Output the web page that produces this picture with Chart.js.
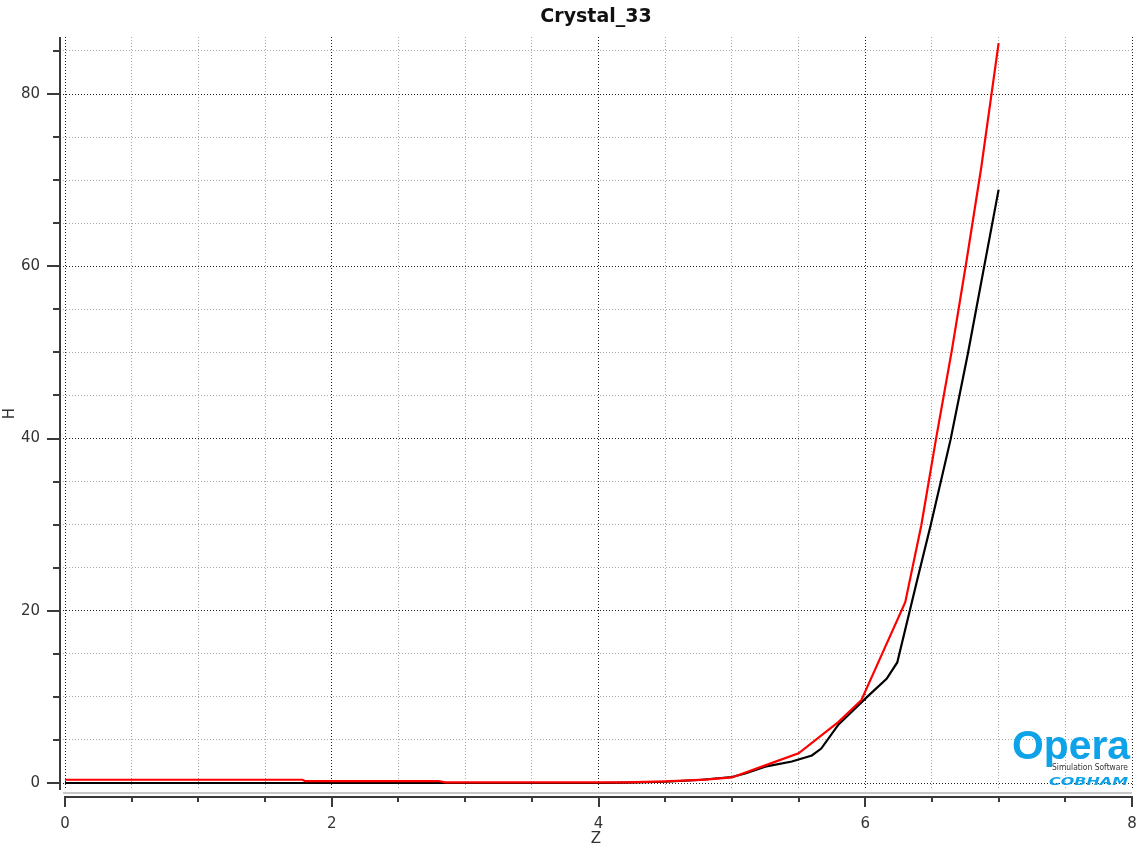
<!DOCTYPE html>
<html><head><meta charset="utf-8">
<script src="https://cdn.jsdelivr.net/npm/chart.js@4.4.0/dist/chart.umd.min.js"></script>
<style>html,body{margin:0;padding:0;background:#fff;overflow:hidden}#wrap{width:1137px;height:851px;position:relative}</style>
</head><body><div id="wrap"><canvas id="c" width="1137" height="851"></canvas></div>
<script>
const chartTitle = 'Crystal_33';
const xAxisTitle = 'Z';
const yAxisTitle = 'H';
const xTickValues = [0,0.5,1,1.5,2,2.5,3,3.5,4,4.5,5,5.5,6,6.5,7,7.5,8];
const xMajorTicks = [0,2,4,6,8];
const yTickValues = [0,5,10,15,20,25,30,35,40,45,50,55,60,65,70,75,80,85];
const yMajorTicks = [0,20,40,60,80];

const blackZ = [0, 1, 2, 3, 4, 4.2, 4.5, 4.75, 5.0, 5.1, 5.25, 5.45, 5.6, 5.67, 5.8, 6.0, 6.16, 6.24, 6.39, 6.49, 6.64, 6.77, 6.88, 7.0];
const blackH = [0, 0, 0, 0, 0, 0.05, 0.15, 0.35, 0.7, 1.1, 1.9, 2.5, 3.2, 4.0, 6.8, 9.8, 12.1, 14.0, 23.6, 29.9, 39.9, 49.9, 59.0, 68.9];

const redZ = [0, 1.78, 1.8, 2.8, 2.85, 4.2, 4.5, 4.8, 5.0, 5.25, 5.5, 5.8, 5.97, 6.3, 6.42, 6.53, 6.65, 6.76, 6.87, 7.0];
const redH = [0.38, 0.38, 0.23, 0.23, 0.08, 0.08, 0.2, 0.4, 0.65, 2.05, 3.45, 7.1, 9.6, 21.0, 29.9, 39.9, 50.3, 60.7, 71.5, 85.9];

const FONT = '"DejaVu Sans", "Liberation Sans", sans-serif';
const toPts = (xs, ys) => xs.map((x, i) => ({x: x, y: ys[i]}));

const decoPlugin = {
  id: 'deco',
  afterDraw(chart) {
    const {ctx, chartArea: {left, right, top, bottom}, scales: {x, y}} = chart;
    ctx.save();
    ctx.strokeStyle = '#3a3a3a';
    ctx.lineWidth = 2;
    ctx.beginPath(); ctx.moveTo(left, top); ctx.lineTo(left, bottom); ctx.stroke();
    yTickValues.forEach(v => {
      const py = Math.round(y.getPixelForValue(v));
      const len = yMajorTicks.includes(v) ? 13 : 7;
      ctx.beginPath(); ctx.moveTo(left - len, py); ctx.lineTo(left, py); ctx.stroke();
    });
    const x0 = x.getPixelForValue(xTickValues[0]);
    const x1 = x.getPixelForValue(xTickValues[xTickValues.length - 1]);
    ctx.strokeStyle = '#c8c8c8';
    ctx.beginPath(); ctx.moveTo(x0 - 2, bottom + 3); ctx.lineTo(right, bottom + 3); ctx.stroke();
    ctx.strokeStyle = '#3a3a3a';
    const ay = bottom + 7;
    ctx.beginPath(); ctx.moveTo(x0 - 1, ay); ctx.lineTo(x1 + 1, ay); ctx.stroke();
    xTickValues.forEach(v => {
      const px = Math.round(x.getPixelForValue(v));
      const len = xMajorTicks.includes(v) ? 10 : 5;
      ctx.beginPath(); ctx.moveTo(px, ay); ctx.lineTo(px, ay + len); ctx.stroke();
    });
    // logo
    ctx.fillStyle = '#0ea2e8';
    ctx.textBaseline = 'alphabetic';
    ctx.textAlign = 'left';
    ctx.font = 'bold 41px "Liberation Sans", Arial, sans-serif';
    let w = ctx.measureText('Opera').width;
    ctx.save(); ctx.translate(1012, 759); ctx.scale(118 / w, 1); ctx.fillText('Opera', 0, 0); ctx.restore();
    ctx.fillStyle = '#333';
    ctx.font = '9px ' + FONT;
    w = ctx.measureText('Simulation Software').width;
    ctx.save(); ctx.translate(1052, 770); ctx.scale(76 / w, 1); ctx.fillText('Simulation Software', 0, 0); ctx.restore();
    ctx.fillStyle = '#0ea2e8';
    ctx.font = 'italic bold 10px ' + FONT;
    w = ctx.measureText('COBHAM').width;
    ctx.save(); ctx.translate(1049, 785); ctx.scale(79 / w, 1); ctx.fillText('COBHAM', 0, 0); ctx.restore();
    ctx.restore();
  }
};

new Chart(document.getElementById('c'), {
  type: 'line',
  data: {
    datasets: [
      {label: 'black', data: toPts(blackZ, blackH), borderColor: '#000000', borderWidth: 2.2, pointRadius: 0, tension: 0, fill: false, order: 1},
      {label: 'red', data: toPts(redZ, redH), borderColor: '#ff0000', borderWidth: 2.2, pointRadius: 0, tension: 0, fill: false, order: 0}
    ]
  },
  options: {
    responsive: false,
    animation: false,
    devicePixelRatio: 1,
    layout: {padding: {left: 0, right: 5, top: 0, bottom: 0}},
    plugins: {
      legend: {display: false},
      tooltip: {enabled: false},
      title: {display: true, fullSize: false, text: chartTitle, color: '#111', font: {family: FONT, size: 19, weight: 'bold', lineHeight: 1.2}, padding: {top: 6, bottom: 8.2}}
    },
    scales: {
      x: {
        type: 'linear', min: -0.0375, max: 8,
        afterBuildTicks: s => { s.ticks = xTickValues.map(v => ({value: v})); },
        afterFit: s => { s.height = 61; s.paddingLeft = 0; s.paddingRight = 0; },
        ticks: {autoSkip: false, maxRotation: 0, padding: 25, color: '#333', font: {family: FONT, size: 15},
          callback: v => xMajorTicks.includes(v) ? String(v) : ''},
        grid: {drawTicks: false, lineWidth: 1, color: c => (c.tick && xMajorTicks.includes(c.tick.value)) ? '#222' : '#a8a8a8'},
        border: {display: false, dash: [1, 2]},
        title: {display: true, text: xAxisTitle, color: '#333', font: {family: FONT, size: 15, lineHeight: 1.2}, padding: {top: 0, bottom: 3}}
      },
      y: {
        type: 'linear', min: -0.81, max: 86.62,
        afterBuildTicks: s => { s.ticks = yTickValues.map(v => ({value: v})); },
        afterFit: s => { s.width = 60; s.paddingTop = 0; s.paddingBottom = 0; },
        ticks: {autoSkip: false, padding: 20, color: '#333', font: {family: FONT, size: 15},
          callback: v => yMajorTicks.includes(v) ? String(v) : ''},
        grid: {drawTicks: false, lineWidth: 1, color: c => (c.tick && yMajorTicks.includes(c.tick.value)) ? '#222' : '#a8a8a8'},
        border: {display: false, dash: [1, 2]},
        title: {display: true, text: yAxisTitle, color: '#333', font: {family: FONT, size: 15, lineHeight: 1.2}, padding: {top: 1, bottom: 0}}
      }
    }
  },
  plugins: [decoPlugin]
});
</script>
</body></html>
